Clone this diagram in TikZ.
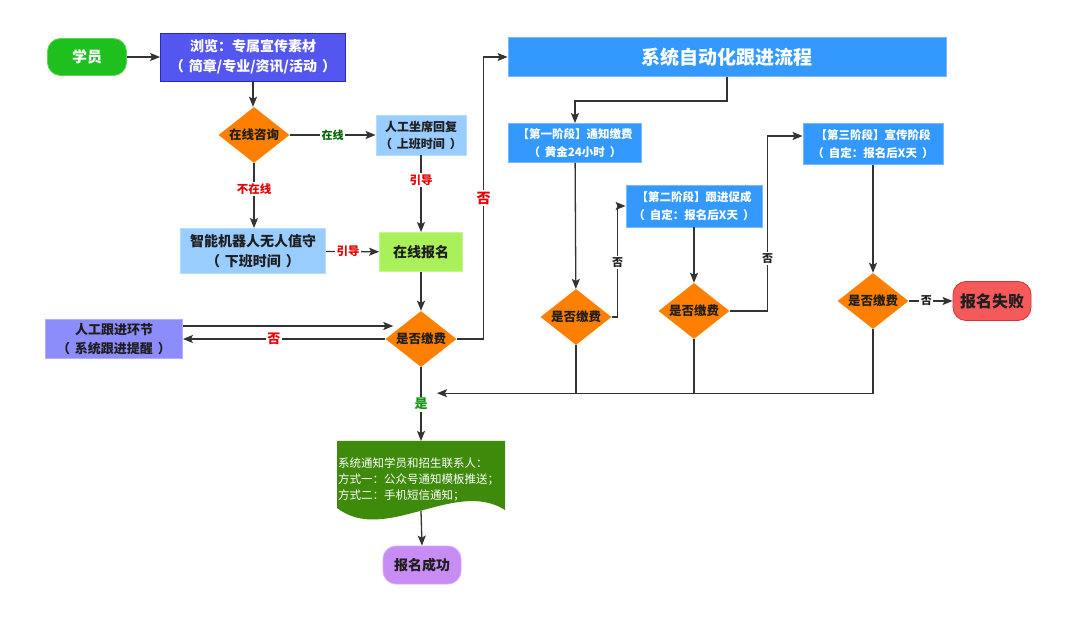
\documentclass[tikz,border=0pt]{standalone}
\usepackage{fontspec}
\setmainfont{Noto Sans CJK SC}
\usetikzlibrary{shapes.geometric,arrows.meta,calc}
\definecolor{txt}{RGB}{30,30,30}
\definecolor{lc}{RGB}{51,51,51}
\definecolor{stug}{RGB}{30,192,30}
\definecolor{stue}{RGB}{90,215,90}
\definecolor{brw}{RGB}{84,86,240}
\definecolor{brwe}{RGB}{40,40,200}
\definecolor{orng}{RGB}{255,128,0}
\definecolor{lblue}{RGB}{153,204,255}
\definecolor{lbluee}{RGB}{180,220,255}
\definecolor{lime}{RGB}{170,240,90}
\definecolor{limee}{RGB}{195,248,140}
\definecolor{lav}{RGB}{140,140,250}
\definecolor{lave}{RGB}{175,175,255}
\definecolor{sysb}{RGB}{51,153,255}
\definecolor{sysbe}{RGB}{120,185,255}
\definecolor{failr}{RGB}{245,90,90}
\definecolor{faile}{RGB}{215,50,50}
\definecolor{docg}{RGB}{62,138,10}
\definecolor{succp}{RGB}{200,140,245}
\definecolor{succe}{RGB}{215,170,250}
\definecolor{redlab}{RGB}{230,0,0}
\definecolor{dglab}{RGB}{0,100,0}
\definecolor{glab}{RGB}{20,150,20}
\newcommand\fsz[2]{\fontsize{#1}{#2}\selectfont}
\newcommand\lpar{（\hspace{5pt}}
\newcommand\rpar{\hspace{5pt}）}
\begin{document}
\begin{tikzpicture}[x=1pt,y=-1pt,
  base/.style={text=txt, align=center, inner sep=0pt},
  box/.style={base, rectangle, line width=0.8pt},
  pill/.style={base, rectangle, rounded corners=13pt, line width=0.8pt},
  dia/.style={base, diamond, aspect=1.27, fill=orng, minimum width=71pt, minimum height=56pt, font=\bfseries\fsz{12.5}{15}},
  stage/.style={box, fill=sysb, draw=sysbe, text=white, font=\bfseries\fsz{11.5}{18}},
  arr/.style={draw=lc, line width=1.3pt, -{Stealth[length=10pt,width=8pt,inset=2pt]}},
  ln/.style={draw=lc, line width=1.3pt},
  lab/.style={fill=white, inner sep=1.5pt, font=\bfseries\fsz{11.5}{13}},
]
\useasboundingbox (0,0) rectangle (1080,620);
\fill[white] (0,0) rectangle (1080,620);

% nodes
\node[pill, fill=stug, draw=stue, minimum width=79pt, minimum height=37pt, text=white, font=\bfseries\fsz{15}{18}] (stu) at (87,57) {学员};
\node[box, fill=brw, draw=brwe, minimum width=185pt, minimum height=48pt, text=white, font=\bfseries\fsz{14}{20}] (browse) at (253,57) {浏览：专属宣传素材\\\lpar 简章/专业/资讯/活动\rpar};
\node[dia] (ask) at (254,135) {在线咨询};
\node[box, fill=lblue, draw=lbluee, minimum width=90pt, minimum height=40pt, font=\bfseries\fsz{12}{17}] (seat) at (421,135) {人工坐席回复\\\lpar 上班时间\rpar};
\node[box, fill=lblue, draw=lbluee, minimum width=145pt, minimum height=45pt, font=\bfseries\fsz{14}{20}] (robot) at (253,251) {智能机器人无人值守\\\lpar 下班时间\rpar};
\node[box, fill=lime, draw=limee, minimum width=83pt, minimum height=39pt, font=\bfseries\fsz{14}{17}] (reg) at (421,252) {在线报名};
\node[dia] (pay0) at (421,339) {是否缴费};
\node[box, fill=lav, draw=lave, minimum width=137pt, minimum height=39pt, font=\bfseries\fsz{13}{19}] (follow) at (114,339) {人工跟进环节\\\lpar 系统跟进提醒\rpar};
\node[box, fill=sysb, draw=sysbe, minimum width=438pt, minimum height=39pt, text=white, font=\bfseries\fsz{19}{22}] (sys) at (727,57) {系统自动化跟进流程};
\node[stage, minimum width=133pt, minimum height=39pt] (s1) at (575,143) {【第一阶段】通知缴费\\\lpar 黄金24小时\rpar};
\node[dia] (d1) at (576,317) {是否缴费};
\node[stage, minimum width=136pt, minimum height=42pt] (s2) at (694,206) {【第二阶段】跟进促成\\\lpar 自定：报名后X天\rpar};
\node[dia] (d2) at (694,311) {是否缴费};
\node[stage, minimum width=140pt, minimum height=41pt] (s3) at (873,144) {【第三阶段】宣传阶段\\\lpar 自定：报名后X天\rpar};
\node[dia] (d3) at (873,301) {是否缴费};
\node[pill, fill=failr, draw=faile, minimum width=78pt, minimum height=39pt, font=\bfseries\fsz{16}{19}] (fail) at (992,301) {报名失败};
\fill[docg] (337,441) -- (505,441) -- (505,510) .. controls (455,478) and (385,545) .. (337,508) -- cycle;
\node[base, text=white, align=left, text width=166pt, minimum height=62pt, font=\fsz{11.5}{16}] (doc) at (421,480) {系统通知学员和招生联系人：\\方式一：公众号通知模板推送；\\方式二：手机短信通知；};
\node[pill, fill=succp, draw=succe, minimum width=78pt, minimum height=38pt, font=\bfseries\fsz{14}{17}] (succ) at (422,565) {报名成功};
\coordinate (merge) at ($(pay0.south)+(16,26)$);

% connectors
\draw[arr] (stu) -- (browse);
\draw[arr] (browse.south) -- (browse.south |- ask.north);
\draw[arr] (ask) -- node[lab, text=dglab, font=\bfseries\fsz{11}{13}] {在线} (seat);
\draw[arr] (ask.south) -- node[lab, text=redlab, pos=0.4] {不在线} (ask.south |- robot.north);
\draw[arr] (seat) -- node[lab, text=redlab, pos=0.32] {引导} (reg);
\draw[arr] (robot) -- node[lab, text=redlab, pos=0.42] {引导} (reg);
\draw[arr] (reg) -- (pay0);
\draw[arr] ([yshift=13pt]follow.east) -- ([xshift=8pt,yshift=13pt]pay0.west);
\draw[arr] (pay0.west) -- node[lab, text=redlab, font=\bfseries\fsz{13}{15}, pos=0.55] {否} (pay0.west -| follow.east);
\draw[arr] (pay0.east) -- ++(27,0) |- node[lab, text=redlab, font=\bfseries\fsz{14}{16}, pos=0.25] {否} (sys.west);
\draw[arr] (pay0) -- node[lab, text=glab, font=\bfseries\fsz{13}{15}] {是} (pay0.south |- 0,441);
\draw[arr] (sys.south) -- ++(0,24) -| (s1.north);
\draw[arr] (s1) -- (d1);
\draw[arr] (d1.east) -- ++(6,0) |- node[lab, text=txt, font=\bfseries\fsz{11}{13}, pos=0.245] {否} (s2.west);
\draw[arr] (s2.south) -- (s2.south |- d2.north);
\draw[arr] (d2.east) -- ++(38,0) |- node[lab, text=txt, font=\bfseries\fsz{11}{13}, pos=0.15] {否} ([yshift=8pt]s3.west);
\draw[arr] (s3) -- (d3);
\draw[arr] (d3) -- node[lab, text=txt, font=\bfseries\fsz{11}{13}, pos=0.4] {否} (fail);
\draw[ln] (d1.south) -- (d1.south |- merge);
\draw[ln] (d2.south) -- (d2.south |- merge);
\draw[arr] (d3.south) |- (merge);
\draw[arr] (doc.south) -- (succ.north);
\end{tikzpicture}
\end{document}
